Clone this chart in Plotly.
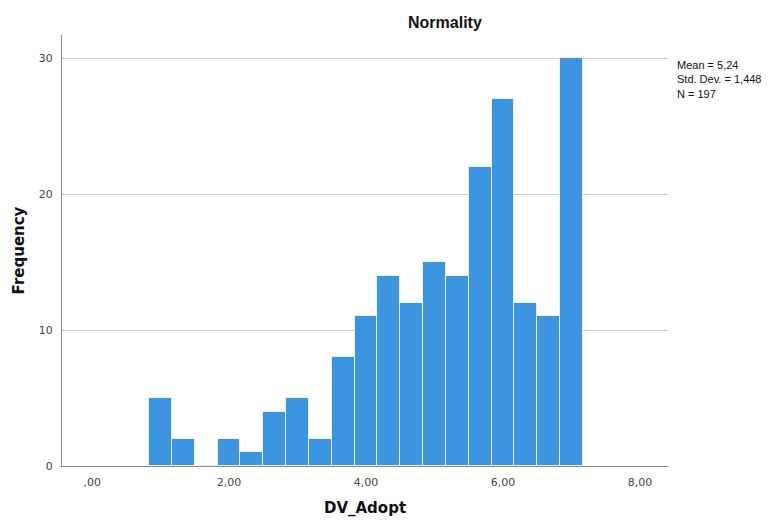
import plotly.graph_objects as go

# Histogram of DV_Adopt: bins of width 1/3 centred on 1, 1.33, ..., 7
bin_centers = [1 + i / 3 for i in range(19)]
counts = [5, 2, 0, 2, 1, 4, 5, 2, 8, 11, 14, 12, 15, 14, 22, 27, 12, 11, 30]
bin_width = 1 / 3

x_ticks = [0, 2, 4, 6, 8]
x_tick_labels = [",00", "2,00", "4,00", "6,00", "8,00"]
y_ticks = [0, 10, 20, 30]

stats_text = "Mean = 5,24<br>Std. Dev. = 1,448<br>N = 197"

fig = go.Figure(
    go.Bar(
        x=bin_centers,
        y=counts,
        width=bin_width,
        marker=dict(color="rgb(59,149,224)", line=dict(color="#e8f2fb", width=1)),
        hoverinfo="x+y",
    )
)

fig.update_layout(
    width=777,
    height=520,
    margin=dict(l=62, r=109, t=35, b=54),
    plot_bgcolor="white",
    paper_bgcolor="white",
    showlegend=False,
    bargap=0,
    font=dict(family="DejaVu Sans", size=11, color="#333"),
)

fig.update_xaxes(
    range=[-0.44, 8.41],
    tickvals=x_ticks,
    ticktext=x_tick_labels,
    showgrid=False,
    zeroline=False,
    showline=True,
    linecolor="#8a8a8a",
    linewidth=1,
    ticks="",
    automargin=False,
    ticklabelstandoff=6,
    tickfont=dict(family="DejaVu Sans", size=11, color="#444"),
    title=dict(text="<b>DV_Adopt</b>", font=dict(family="DejaVu Sans", size=15, color="#111"), standoff=14),
)

fig.update_yaxes(
    range=[0, 31.7],
    tickvals=y_ticks,
    showgrid=True,
    gridcolor="#c9c9c9",
    gridwidth=1,
    zeroline=False,
    showline=True,
    linecolor="#8a8a8a",
    linewidth=1,
    ticks="",
    automargin=False,
    ticklabelstandoff=6,
    tickfont=dict(family="DejaVu Sans", size=11, color="#444"),
    title=dict(text="<b>Frequency</b>", font=dict(family="DejaVu Sans", size=15, color="#111"), standoff=10),
)

fig.add_annotation(
    text="<b>Normality</b>",
    xref="paper", yref="paper",
    x=(445 - 62) / (668 - 62), y=1,
    yshift=13,
    xanchor="center", yanchor="middle",
    showarrow=False,
    font=dict(family="Liberation Sans Narrow, Liberation Sans", size=16, color="#111"),
)

fig.add_annotation(
    text=stats_text,
    xref="paper", yref="paper",
    x=1, y=(466 - 57) / (466 - 35),
    xshift=7,
    xanchor="left", yanchor="top",
    align="left",
    showarrow=False,
    font=dict(family="Liberation Sans Narrow, Liberation Sans", size=11, color="#111"),
)

fig.write_html("out.html")
